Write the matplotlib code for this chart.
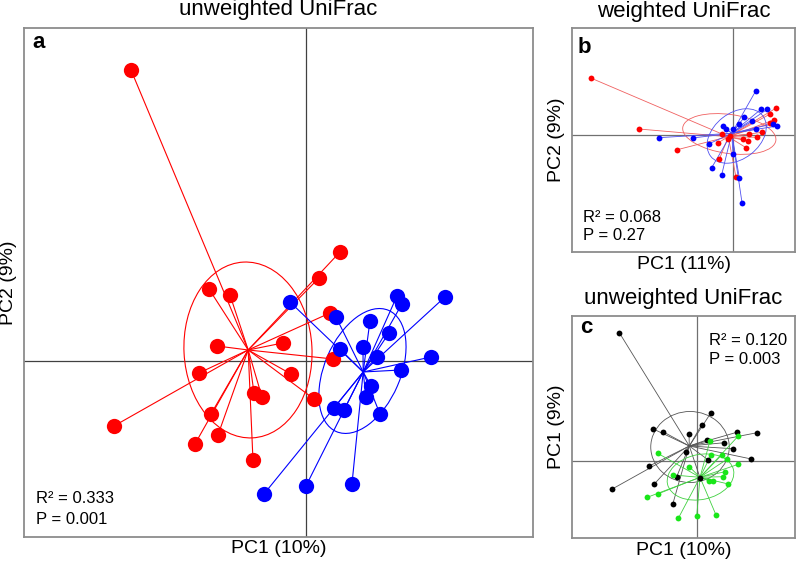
import matplotlib.pyplot as plt
from matplotlib.patches import Ellipse

plt.rcParams['font.family'] = ['Liberation Sans', 'DejaVu Sans']

# ---- panel a: unweighted UniFrac (PC1 10%, PC2 9%) ----
a_red_x = [-0.1755, 0.0335, 0.0125, -0.0975, -0.0765, 0.0235, -0.0895, -0.0235, 0.0265, -0.1075,
           -0.0155, -0.0525, -0.0445, 0.0075, -0.0955, -0.1925, -0.0885, -0.1115, -0.0535]
a_red_y = [0.2907, 0.1087, 0.0827, 0.0717, 0.0657, 0.0477, 0.0147, 0.0177, 0.0017, -0.0123,
           -0.0133, -0.0323, -0.0363, -0.0383, -0.0533, -0.0653, -0.0743, -0.0833, -0.0993]
a_blue_x = [-0.0165, 0.0295, 0.0635, 0.0905, 0.0955, 0.1385, 0.0825, 0.0335, 0.0565, 0.0705,
            0.1245, 0.0945, 0.0645, 0.0595, 0.0275, 0.0375, 0.0735, -0.0005, 0.0455, -0.0425]
a_blue_y = [0.0587, 0.0437, 0.0397, 0.0647, 0.0567, 0.0637, 0.0277, 0.0117, 0.0137, 0.0037,
            0.0037, -0.0093, -0.0253, -0.0363, -0.0473, -0.0493, -0.0533, -0.1253, -0.1233, -0.1333]
a_centroids = [(-0.0583, 0.0107), (0.0567, -0.0113)]
# ellipses: centre x, centre y, width, height, angle
a_ellipses = [(-0.0585, 0.0107, 0.128, 0.176, 3), (0.056, -0.0103, 0.132, 0.076, 66.7)]

# ---- panel b: weighted UniFrac (PC1 11%, PC2 9%) ----
b_red_x = [-0.284, -0.188, -0.1108, 0.0872, 0.074, 0.082, 0.0746, 0.0592, 0.0492, 0.0332,
           0.0212, 0.0312, 0.0266, -0.0208, -0.01, -0.0054, -0.0288, -0.0268, 0.0066]
b_red_y = [0.114, 0.012, -0.0294, 0.054, 0.0414, 0.03, 0.0234, 0.0054, -0.0046, 0.002,
           -0.0086, -0.0126, -0.0254, 0.002, -0.0086, -0.002, -0.0154, -0.0486, -0.0846]
b_blue_x = [0.046, 0.0566, 0.0692, 0.0232, 0.0126, 0.0386, -0.0188, -0.0134, 0.0012, 0.046,
            0.08, 0.0892, -0.08, -0.148, -0.0468, 0.0006, -0.042, -0.022, 0.0132, 0.0186]
b_blue_y = [0.088, 0.0514, 0.0514, 0.0354, 0.022, 0.0274, 0.018, 0.0126, 0.0126, 0.0114,
            0.022, 0.018, -0.006, -0.0054, -0.0174, -0.038, -0.0654, -0.0794, -0.0854, -0.1354]
b_centroids = [(-0.0088, -0.0034), (-0.002, 0.0034)]
b_ellipses = [(-0.0068, 0.002, 0.188, 0.078, -8), (0.008, -0.002, 0.132, 0.092, 38)]

# ---- panel c: unweighted UniFrac, second grouping ----
c_black_x = [-0.1548, -0.17, 0.0286, 0.01, -0.0868, -0.0674, -0.0154, 0.02, 0.08, 0.1206,
             0.0552, 0.072, -0.0214, 0.0232, 0.1092, -0.0948, -0.04, 0.0066, -0.0848, -0.048]
c_black_y = [0.256, -0.0572, 0.096, 0.072, 0.0634, 0.058, 0.0528, 0.0414, 0.0568, 0.056,
             0.036, 0.024, 0.0168, 0.0014, 0.0034, -0.0106, -0.032, -0.034, -0.0466, -0.0872]
c_green_x = [0.0832, 0.0266, 0.0286, 0.05, 0.0612, 0.0832, -0.078, -0.0148, -0.0468, 0.0566,
             0.052, 0.0246, 0.0332, 0.0632, -0.078, -0.0988, -0.0368, 0.0, 0.0386]
c_green_y = [0.0494, 0.04, 0.0114, 0.0114, 0.0034, -0.0072, 0.0148, -0.012, -0.0286, -0.022,
             -0.032, -0.0406, -0.0406, -0.0466, -0.0666, -0.0732, -0.1152, -0.1106, -0.1086]
c_centroids = [(-0.0148, 0.0294), (0.0066, -0.0332)]
c_ellipses = [(-0.0134, 0.0274, 0.157, 0.142, 0), (0.0076, -0.0326, 0.135, 0.09, 12)]

RED = '#ff0000'
BLUE = '#0000ff'
GREEN = '#19e619'


def draw_group(ax, xs, ys, centroid, ell, pt_color, line_color, ms, lw):
    cx, cy = centroid
    for x, y in zip(xs, ys):
        ax.plot([cx, x], [cy, y], color=line_color, lw=lw, zorder=2)
    ex, ey, ew, eh, ea = ell
    ax.add_patch(Ellipse((ex, ey), ew, eh, angle=ea, fill=False,
                         edgecolor=line_color, lw=lw, zorder=2))
    ax.plot(xs, ys, 'o', color=pt_color, ms=ms, mec='none', zorder=3)


def style_axes(ax, xlim, ylim, cross_color):
    ax.set_xlim(xlim)
    ax.set_ylim(ylim)
    ax.axhline(0, color=cross_color, lw=0.9, zorder=1)
    ax.axvline(0, color=cross_color, lw=0.9, zorder=1)
    ax.set_xticks([])
    ax.set_yticks([])
    for sp in ax.spines.values():
        sp.set_color('#8c8c8c')
        sp.set_linewidth(1.3)


fig = plt.figure(figsize=(7.97, 5.64), dpi=100)

# panel a
ax_a = fig.add_axes([0.0301, 0.0479, 0.6386, 0.9025])
style_axes(ax_a, (-0.2825, 0.2265), (-0.1763, 0.3327), '#404040')
draw_group(ax_a, a_red_x, a_red_y, a_centroids[0], a_ellipses[0], RED, RED, 11, 0.8)
draw_group(ax_a, a_blue_x, a_blue_y, a_centroids[1], a_ellipses[1], BLUE, BLUE, 11, 0.8)
ax_a.set_title('unweighted UniFrac', fontsize=16, pad=9)
ax_a.set_xlabel('PC1 (10%)', fontsize=14)
ax_a.set_ylabel('PC2 (9%)', fontsize=14)
ax_a.xaxis.set_label_coords(0.5, -0.006)
ax_a.yaxis.set_label_coords(-0.013, 0.5)
ax_a.text(0.016, 0.9607, 'a', transform=ax_a.transAxes, fontsize=16, fontweight='bold')
ax_a.text(0.0236, 0.0668, 'R\u00b2 = 0.333', transform=ax_a.transAxes, fontsize=12)
ax_a.text(0.0236, 0.0255, 'P = 0.001', transform=ax_a.transAxes, fontsize=12)

# panel b
ax_b = fig.add_axes([0.7177, 0.5532, 0.2798, 0.3972])
style_axes(ax_b, (-0.3214, 0.1246), (-0.234, 0.214), '#707070')
draw_group(ax_b, b_red_x, b_red_y, b_centroids[0], b_ellipses[0], RED, '#f06060', 4.2, 0.6)
draw_group(ax_b, b_blue_x, b_blue_y, b_centroids[1], b_ellipses[1], BLUE, '#5050f0', 4.2, 0.6)
ax_b.set_title('weighted UniFrac', fontsize=16, pad=8)
ax_b.set_xlabel('PC1 (11%)', fontsize=14)
ax_b.set_ylabel('PC2 (9%)', fontsize=14)
ax_b.xaxis.set_label_coords(0.5, -0.02)
ax_b.yaxis.set_label_coords(-0.03, 0.5)
ax_b.text(0.027, 0.888, 'b', transform=ax_b.transAxes, fontsize=16, fontweight='bold')
ax_b.text(0.049, 0.134, 'R\u00b2 = 0.068', transform=ax_b.transAxes, fontsize=12)
ax_b.text(0.049, 0.054, 'P = 0.27', transform=ax_b.transAxes, fontsize=12)

# panel c
ax_c = fig.add_axes([0.7177, 0.0461, 0.2798, 0.3936])
style_axes(ax_c, (-0.2494, 0.1966), (-0.1546, 0.2894), '#707070')
draw_group(ax_c, c_black_x, c_black_y, c_centroids[0], c_ellipses[0], 'black', '#555555', 4.2, 0.6)
draw_group(ax_c, c_green_x, c_green_y, c_centroids[1], c_ellipses[1], GREEN, '#40d040', 4.2, 0.6)
ax_c.set_title('unweighted UniFrac', fontsize=16, pad=9)
ax_c.set_xlabel('PC1 (10%)', fontsize=14)
ax_c.set_ylabel('PC1 (9%)', fontsize=14)
ax_c.xaxis.set_label_coords(0.5, -0.02)
ax_c.yaxis.set_label_coords(-0.03, 0.5)
ax_c.text(0.036, 0.925, 'c', transform=ax_c.transAxes, fontsize=16, fontweight='bold')
ax_c.text(0.614, 0.868, 'R\u00b2 = 0.120', transform=ax_c.transAxes, fontsize=12)
ax_c.text(0.614, 0.785, 'P = 0.003', transform=ax_c.transAxes, fontsize=12)

fig.savefig('out.png', dpi=100)
